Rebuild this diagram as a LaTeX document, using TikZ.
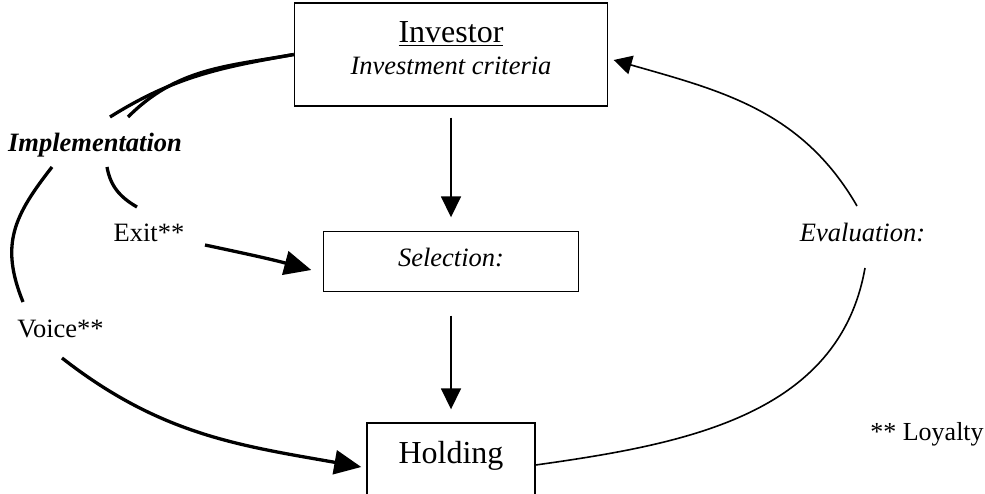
\documentclass[tikz,border=0pt]{standalone}
\usepackage{fontspec}
\setmainfont{Liberation Serif}
\usetikzlibrary{arrows.meta}
\tikzstyle{box}=[rectangle,draw=black,line width=1.4pt,inner xsep=0pt,inner ysep=6pt,anchor=base]
\tikzstyle{lbl}=[anchor=base,inner sep=0pt,font=\fontsize{26.5}{32}\selectfont]
\tikzstyle{flow}=[line width=1.7pt,-{Triangle[length=21pt,width=20pt]}]
\tikzstyle{route}=[line width=3.3pt]
\tikzstyle{routearrow}=[route,-{Triangle[length=27pt,width=24pt]}]
\tikzstyle{evalarc}=[line width=1.6pt]

\begin{document}
\begin{tikzpicture}[x=1pt,y=1pt]
			\useasboundingbox (0,0) rectangle (985,-494);

			% boxes
			\node[box,minimum width=313pt,text height=34pt,text depth=57pt,
				font=\fontsize{32}{38}\selectfont] (invest) at (451,-43) {\underline{Investor}};
			\node[lbl,font=\fontsize{26.5}{32}\selectfont\itshape] (criteria) at (451,-75) {Investment criteria};
			\node[box,minimum width=255pt,text height=29.3pt,text depth=18.7pt,
				font=\fontsize{26.5}{32}\selectfont\itshape] (sel) at (451,-267) {Selection:};
			\node[box,minimum width=168pt,text height=34pt,text depth=30pt,
				font=\fontsize{32}{38}\selectfont] (hold) at (451,-463) {Holding};

			% labels
			\node[lbl,font=\fontsize{26.5}{32}\selectfont\bfseries\itshape] (impl) at (95,-152) {Implementation};
			\node[lbl] (exit) at (149,-242) {Exit**};
			\node[lbl] (voice) at (60.5,-337) {Voice**};
			\node[lbl,font=\fontsize{26.5}{32}\selectfont\itshape] (eval) at (862.5,-242) {Evaluation:};
			\node[lbl,font=\fontsize{26}{31}\selectfont] (loyal) at (927,-440) {** Loyalty};

			\draw[flow,shorten <=11pt,shorten >=13.7pt] (invest.south) -- (sel.north);
			\draw[flow,shorten <=23.3pt,shorten >=13pt] (sel.south) -- (hold.north);

			% implementation part
			\draw[route] (invest.west) to[out=190,in=32] ([shift={(15,35)}]impl.base);
			\draw[route] (invest.west) to[out=190,in=45] ([shift={(33,35)}]impl.base);
			\draw[route] ([shift={(-43,-15)}]impl.base) to[out=232,in=112,looseness=1.15] ([shift={(-37.5,35)}]voice.base);
			\draw[route] ([shift={(12,-15)}]impl.base) to[out=280,in=150] ([shift={(-12,35)}]exit.base);
			\draw[routearrow] ([shift={(56,-3)}]exit.base) to[out=-12,in=165] ([shift={(-11.5,-8.3)}]sel.west);
			\draw[routearrow] ([shift={(1.5,-21)}]voice.base) to[out=-38,in=170] ([shift={(-5,-6)}]hold.west);

			% evaluation part
			\draw[evalarc] ([yshift=-4]hold.east) to[out=8,in=-100] ([shift={(2.5,-26)}]eval.base);
			\draw[evalarc,-{Triangle[length=18pt,width=19pt]}] ([shift={(-5.5,36)}]eval.base)
				to[out=120,in=-16] ([shift={(5.5,-5.5)}]invest.east);
\end{tikzpicture}
\end{document}
